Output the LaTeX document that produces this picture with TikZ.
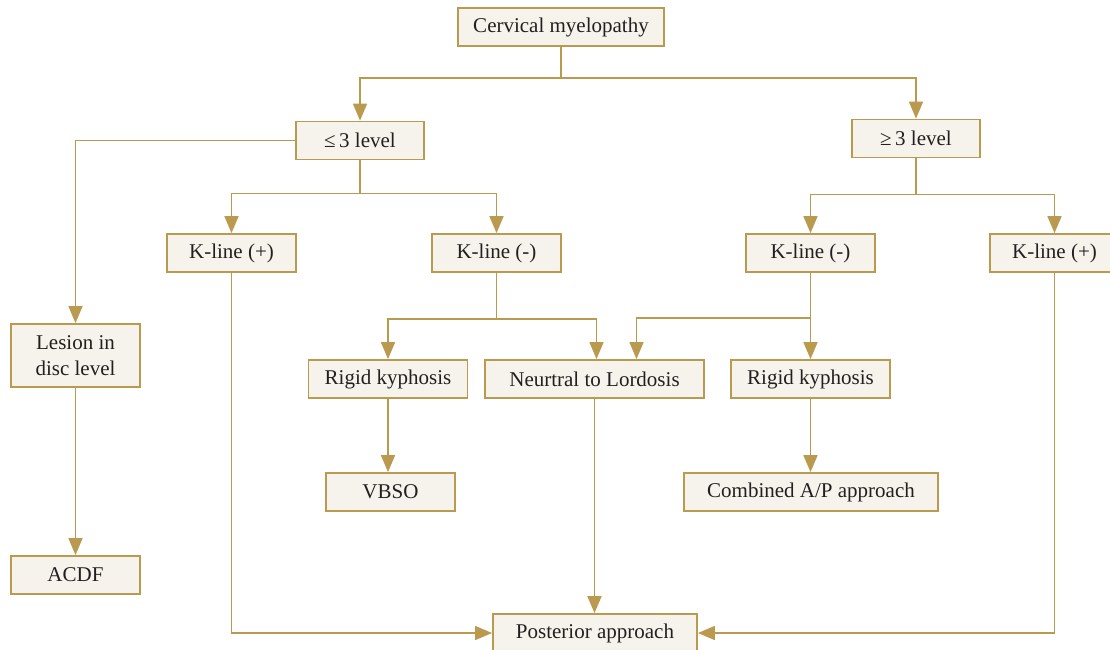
\documentclass[tikz,border=0pt]{standalone}
\usepackage{fontspec}
\setmainfont{Liberation Serif}
\usetikzlibrary{arrows.meta}
\definecolor{gold}{HTML}{B99A4E}
\definecolor{cream}{HTML}{F6F3EC}
\definecolor{ink}{HTML}{231F20}

\begin{document}
\begin{tikzpicture}[x=1pt, y=-1pt,
    box/.style={draw=gold, line width=1.8pt, fill=cream, text=ink, inner sep=0pt,
        align=center, minimum height=38pt, font=\fontsize{21}{26}\selectfont},
    link/.style={draw=gold, line width=1.6pt},
    arr/.style={link, -{Triangle[width=14pt,length=17pt]}}]
    \useasboundingbox (0,0) rectangle (1110,649);

    % top levels
    \node[box, minimum width=206pt] (cm) at (561,27) {Cervical myelopathy};
    \node[box, minimum width=128pt] (le3) at (360,140.5) {≤\,3 level};
    \node[box, minimum width=128pt] (ge3) at (916,138.5) {≥\,3 level};

    % k-line
    \node[box, minimum width=129pt] (kpl) at (231.5,253) {K-line (+)};
    \node[box, minimum width=129pt] (kml) at (496.5,253) {K-line (-)};
    \node[box, minimum width=129pt] (kmr) at (810.5,253) {K-line (-)};
    \node[box, minimum width=129pt] (kpr) at (1054.5,253) {K-line (+)};

    % alignment
    \node[box, minimum width=129pt, minimum height=63pt] (lesion) at (75.5,355.5) {Lesion in\\disc level};
    \node[box, minimum width=159pt] (rkl) at (388,379) {Rigid kyphosis};
    \node[box, minimum width=219pt] (ntl) at (594.5,379) {Neurtral to Lordosis};
    \node[box, minimum width=159pt] (rkr) at (810.5,379) {Rigid kyphosis};

    % procedures
    \node[box, minimum width=129pt] (vbso) at (390.5,492) {VBSO};
    \node[box, minimum width=254pt] (comb) at (811,492) {Combined A/P approach};
    \node[box, minimum width=129pt] (acdf) at (75.5,575) {ACDF};
    \node[box, minimum width=204pt] (post) at (595,633) {Posterior approach};

    \draw[arr] (cm.south) -- ++(0,31) -| (le3.north);
    \draw[arr] (cm.south) -- ++(0,31) -| (ge3.north);
    \draw[arr] (le3.west) -| (lesion.north);
    \draw[arr] (le3.south) -- ++(0,33) -| (kpl.north);
    \draw[arr] (le3.south) -- ++(0,33) -| (kml.north);
    \draw[arr] (ge3.south) -- ++(0,36) -| (kmr.north);
    \draw[arr] (ge3.south) -- ++(0,36) -| (kpr.north);

    \draw[arr] (kml.south) -- ++(0,46) -| (rkl.north);
    \draw[arr] (kml.south) -- ++(0,46) -| ([xshift=2pt]ntl.north);
    \draw[arr] (kmr.south) -- ++(0,45) -| ([xshift=42pt]ntl.north);
    \draw[arr] (kmr.south) -- (rkr.north);

    \draw[arr] (lesion.south) -- (acdf.north);
    \draw[arr] (rkl.south) -- (rkl.south |- vbso.north);
    \draw[arr] (rkr.south) -- (rkr.south |- comb.north);
    \draw[arr] (ntl.south) -- (ntl.south |- post.north);
    \draw[arr] (kpl.south) |- (post.west);
    \draw[arr] (kpr.south) |- (post.east);
\end{tikzpicture}
\end{document}
